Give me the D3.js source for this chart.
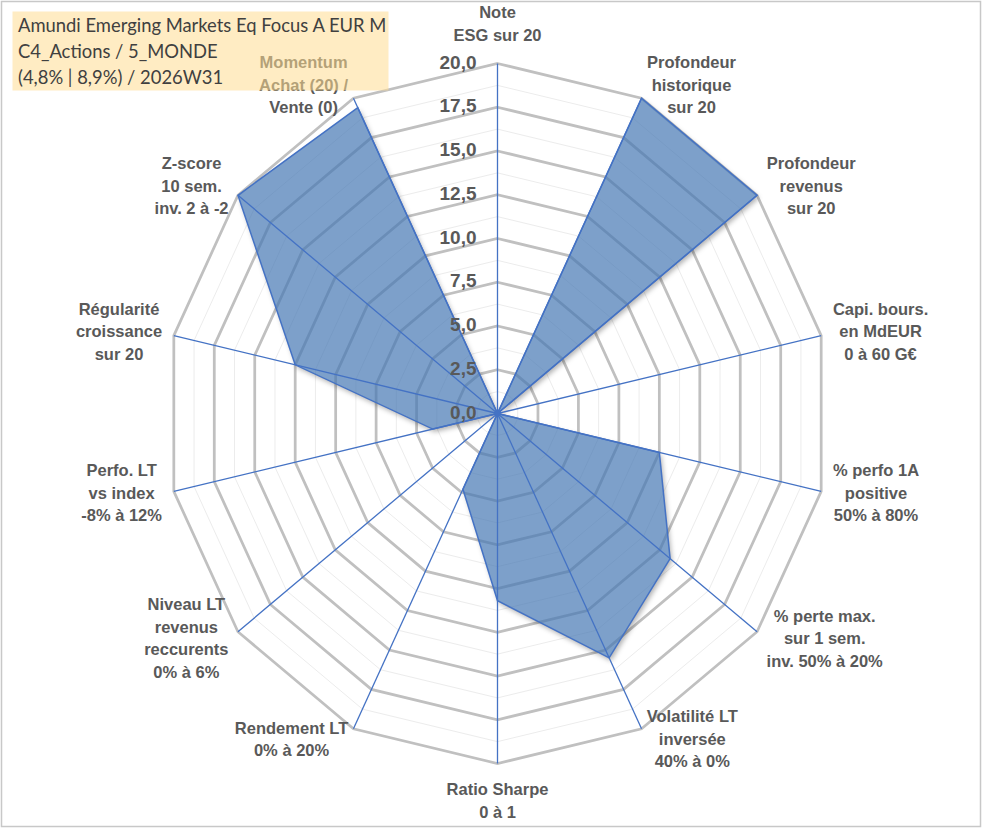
<!DOCTYPE html>
<html>
<head>
<meta charset="utf-8">
<script src="https://cdn.jsdelivr.net/npm/d3@7"></script>
<style>
  body { margin: 0; background: #fff; }
  .axis-label { font-family: "Liberation Sans", Arial, sans-serif; font-weight: bold; font-size: 16.5px; fill: #595959; }
  .tick-label { font-family: "Liberation Sans", Arial, sans-serif; font-weight: bold; font-size: 19px; fill: #595959; }
  .title-text { font-family: Lato, "Open Sans", sans-serif; font-size: 18.4px; fill: #404040; }
</style>
</head>
<body>
<div id="radar"></div>
<script>
// ── Data ─────────────────────────────────────────────────────────
const axisLabels = [
    ["Note", "ESG sur 20"],
    ["Profondeur", "historique", "sur 20"],
    ["Profondeur", "revenus", "sur 20"],
    ["Capi. bours.", "en MdEUR", "0 à 60 G€"],
    ["% perfo 1A", "positive", "50% à 80%"],
    ["% perte max.", "sur 1 sem.", "inv. 50% à 20%"],
    ["Volatilité LT", "inversée", "40% à 0%"],
    ["Ratio Sharpe", "0 à 1"],
    ["Rendement LT", "0% à 20%"],
    ["Niveau LT", "revenus", "reccurents", "0% à 6%"],
    ["Perfo. LT", "vs index", "-8% à 12%"],
    ["Régularité", "croissance", "sur 20"],
    ["Z-score", "10 sem.", "inv. 2 à -2"],
    ["Momentum", "Achat (20) /", "Vente (0)"]
];
const scores = [0, 20, 20, 0, 10, 13.3, 15.5, 10.7, 4.8, 0, 4.0, 12.5, 20, 19.4];
const majorTicks = [0, 2.5, 5, 7.5, 10, 12.5, 15, 17.5, 20];
const minorTicks = [1.25, 3.75, 6.25, 8.75, 11.25, 13.75, 16.25, 18.75];
const titleLines = [
    "Amundi Emerging Markets Eq Focus A EUR M",
    "C4_Actions / 5_MONDE",
    "(4,8% | 8,9%) / 2026W31"
];

// ── Layout ───────────────────────────────────────────────────────
const width = 991;
const height = 830;
const cx = 497.5;
const cy = 413.5;
const n = axisLabels.length;
const lineH = 22.5;

const angleScale = d3.scaleLinear().domain([0, n]).range([0, 2 * Math.PI]);
const rScaleX = d3.scaleLinear().domain([0, 20]).range([0, 332]);
const rScaleY = d3.scaleLinear().domain([0, 20]).range([0, 350]);

const pointAt = (i, v) => {
    const a = angleScale(i);
    return [cx + rScaleX(v) * Math.sin(a), cy - rScaleY(v) * Math.cos(a)];
};
const ringPath = d3.line().curve(d3.curveLinearClosed);
const ring = v => ringPath(d3.range(n).map(i => pointAt(i, v)));
const seriesPath = ringPath(scores.map((v, i) => pointAt(i, v)));

const svg = d3.select("#radar")
    .append("svg")
    .attr("width", width)
    .attr("height", height);

// Shadow only outside the polygon, so the translucent fill stays light
const defs = svg.append("defs");
defs.append("filter")
    .attr("id", "blur")
    .attr("x", "-20%").attr("y", "-20%")
    .attr("width", "140%").attr("height", "140%")
    .append("feGaussianBlur")
    .attr("stdDeviation", 2.5);

const mask = defs.append("mask").attr("id", "outside");
mask.append("rect").attr("width", width).attr("height", height).attr("fill", "#fff");
mask.append("path").attr("d", seriesPath).attr("fill", "#000");

// Chart border
svg.append("rect")
    .attr("x", 1.5).attr("y", 1.5)
    .attr("width", 979).attr("height", 825)
    .attr("fill", "#fff")
    .attr("stroke", "#c8c8c8")
    .attr("stroke-width", 1.5);

// Grid rings
svg.append("g").selectAll("path")
    .data(minorTicks)
    .join("path")
    .attr("d", ring)
    .attr("fill", "none")
    .attr("stroke", "#ececec")
    .attr("stroke-width", 1);

svg.append("g").selectAll("path")
    .data(majorTicks.slice(1))
    .join("path")
    .attr("d", ring)
    .attr("fill", "none")
    .attr("stroke", "#c0c0c0")
    .attr("stroke-width", 2.75);

// Series polygon
svg.append("g")
    .attr("mask", "url(#outside)")
    .append("path")
    .attr("d", seriesPath)
    .attr("transform", "translate(2,3)")
    .attr("fill", "#000")
    .attr("fill-opacity", 0.3)
    .attr("filter", "url(#blur)");

svg.append("path")
    .attr("d", seriesPath)
    .attr("fill", "#4677b4")
    .attr("fill-opacity", 0.7)
    .attr("stroke", "#4472c4")
    .attr("stroke-width", 1.5);

// Spokes
svg.append("g").selectAll("line")
    .data(d3.range(n))
    .join("line")
    .attr("x1", cx).attr("y1", cy)
    .attr("x2", i => pointAt(i, 20)[0])
    .attr("y2", i => pointAt(i, 20)[1])
    .attr("stroke", "#4472c4")
    .attr("stroke-width", 1.3);

svg.append("circle")
    .attr("cx", cx).attr("cy", cy)
    .attr("r", 3)
    .attr("fill", "#4472c4");

// Radial tick labels
svg.append("g").selectAll("text")
    .data(majorTicks)
    .join("text")
    .attr("class", "tick-label")
    .attr("x", cx - 21)
    .attr("y", d => cy - rScaleY(d))
    .attr("text-anchor", "end")
    .attr("dominant-baseline", "middle")
    .text(d => d3.format(".1f")(d).replace(".", ","));

// Category labels
const labelGroups = svg.append("g").selectAll("g")
    .data(axisLabels)
    .join("g");

labelGroups.each(function (lines, i) {
    const g = d3.select(this);
    const txt = g.append("text")
        .attr("class", "axis-label")
        .attr("text-anchor", "middle");
    lines.forEach((line, k) => {
        txt.append("tspan")
            .attr("x", 0)
            .attr("y", (k - (lines.length - 1) / 2) * lineH)
            .attr("dominant-baseline", "middle")
            .text(line);
    });
    const w = txt.node().getBBox().width;
    const h = lines.length * lineH;
    const a = angleScale(i);
    const s = Math.sin(a), c = Math.cos(a);
    const [vx, vy] = pointAt(i, 20);
    let dx, dy;
    if (Math.abs(s) < 0.1) {
        dx = 0;
        dy = -c * (h / 2 + 16);
    } else {
        dx = Math.sign(s) * w / 2 + s * 12;
        dy = -c * 13;
    }
    g.attr("transform", `translate(${vx + dx},${vy + dy})`);
});

// Title box (semi-transparent, drawn over the chart)
svg.append("rect")
    .attr("x", 12.5).attr("y", 11.5)
    .attr("width", 376).attr("height", 79)
    .attr("fill", "rgb(255,220,146)")
    .attr("fill-opacity", 0.55);

svg.append("g").selectAll("text")
    .data(titleLines)
    .join("text")
    .attr("class", "title-text")
    .attr("x", 18)
    .attr("y", (d, i) => 27 + i * 26)
    .attr("dominant-baseline", "middle")
    .text(d => d);
</script>
</body>
</html>
